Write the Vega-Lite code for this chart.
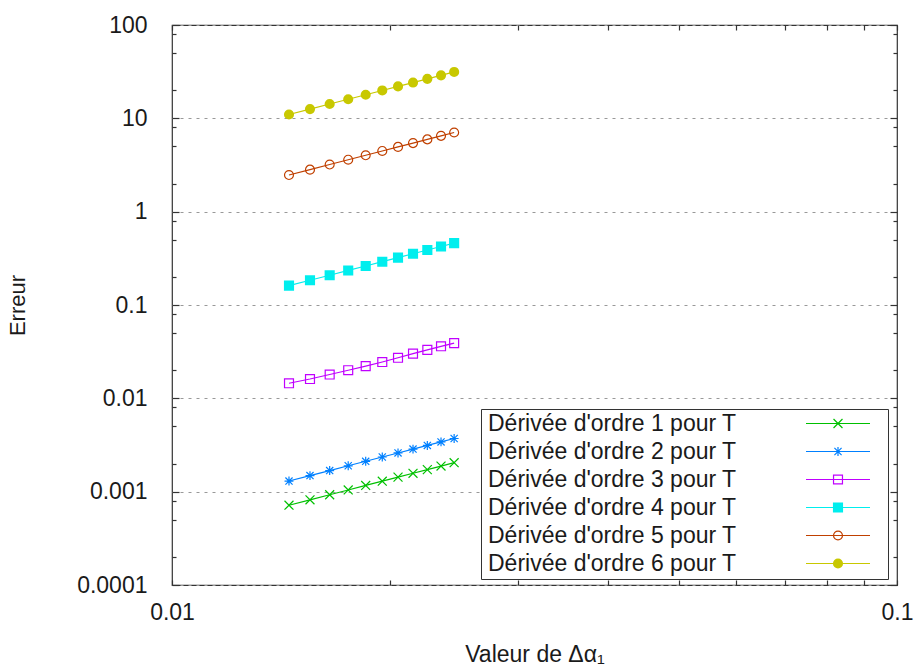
{
  "$schema": "https://vega.github.io/schema/vega-lite/v6.json",
  "width": 725,
  "height": 560,
  "autosize": {"type": "none"},
  "padding": {"left": 172, "top": 25, "right": 18, "bottom": 81},
  "background": "white",
  "config": {
    "view": {"stroke": "#333333", "strokeWidth": 1.2},
    "font": "Liberation Sans"
  },
  "data": {
    "values": [
      {"x": 0.0145, "y": 0.000716, "serie": "Dérivée d'ordre 1 pour T"},
      {"x": 0.0155, "y": 0.000818, "serie": "Dérivée d'ordre 1 pour T"},
      {"x": 0.0165, "y": 0.000927, "serie": "Dérivée d'ordre 1 pour T"},
      {"x": 0.0175, "y": 0.001043, "serie": "Dérivée d'ordre 1 pour T"},
      {"x": 0.0185, "y": 0.001166, "serie": "Dérivée d'ordre 1 pour T"},
      {"x": 0.0195, "y": 0.001295, "serie": "Dérivée d'ordre 1 pour T"},
      {"x": 0.0205, "y": 0.001431, "serie": "Dérivée d'ordre 1 pour T"},
      {"x": 0.0215, "y": 0.001574, "serie": "Dérivée d'ordre 1 pour T"},
      {"x": 0.0225, "y": 0.001724, "serie": "Dérivée d'ordre 1 pour T"},
      {"x": 0.0235, "y": 0.001881, "serie": "Dérivée d'ordre 1 pour T"},
      {"x": 0.0245, "y": 0.002044, "serie": "Dérivée d'ordre 1 pour T"},
      {"x": 0.0145, "y": 0.00130, "serie": "Dérivée d'ordre 2 pour T"},
      {"x": 0.0155, "y": 0.001486, "serie": "Dérivée d'ordre 2 pour T"},
      {"x": 0.0165, "y": 0.001683, "serie": "Dérivée d'ordre 2 pour T"},
      {"x": 0.0175, "y": 0.001894, "serie": "Dérivée d'ordre 2 pour T"},
      {"x": 0.0185, "y": 0.002116, "serie": "Dérivée d'ordre 2 pour T"},
      {"x": 0.0195, "y": 0.002351, "serie": "Dérivée d'ordre 2 pour T"},
      {"x": 0.0205, "y": 0.002598, "serie": "Dérivée d'ordre 2 pour T"},
      {"x": 0.0215, "y": 0.002858, "serie": "Dérivée d'ordre 2 pour T"},
      {"x": 0.0225, "y": 0.00313, "serie": "Dérivée d'ordre 2 pour T"},
      {"x": 0.0235, "y": 0.003415, "serie": "Dérivée d'ordre 2 pour T"},
      {"x": 0.0245, "y": 0.003712, "serie": "Dérivée d'ordre 2 pour T"},
      {"x": 0.0145, "y": 0.0145, "serie": "Dérivée d'ordre 3 pour T"},
      {"x": 0.0155, "y": 0.0161, "serie": "Dérivée d'ordre 3 pour T"},
      {"x": 0.0165, "y": 0.0180, "serie": "Dérivée d'ordre 3 pour T"},
      {"x": 0.0175, "y": 0.0200, "serie": "Dérivée d'ordre 3 pour T"},
      {"x": 0.0185, "y": 0.0221, "serie": "Dérivée d'ordre 3 pour T"},
      {"x": 0.0195, "y": 0.0245, "serie": "Dérivée d'ordre 3 pour T"},
      {"x": 0.0205, "y": 0.0272, "serie": "Dérivée d'ordre 3 pour T"},
      {"x": 0.0215, "y": 0.0301, "serie": "Dérivée d'ordre 3 pour T"},
      {"x": 0.0225, "y": 0.0331, "serie": "Dérivée d'ordre 3 pour T"},
      {"x": 0.0235, "y": 0.0361, "serie": "Dérivée d'ordre 3 pour T"},
      {"x": 0.0245, "y": 0.0391, "serie": "Dérivée d'ordre 3 pour T"},
      {"x": 0.0145, "y": 0.161, "serie": "Dérivée d'ordre 4 pour T"},
      {"x": 0.0155, "y": 0.184, "serie": "Dérivée d'ordre 4 pour T"},
      {"x": 0.0165, "y": 0.2085, "serie": "Dérivée d'ordre 4 pour T"},
      {"x": 0.0175, "y": 0.2345, "serie": "Dérivée d'ordre 4 pour T"},
      {"x": 0.0185, "y": 0.262, "serie": "Dérivée d'ordre 4 pour T"},
      {"x": 0.0195, "y": 0.291, "serie": "Dérivée d'ordre 4 pour T"},
      {"x": 0.0205, "y": 0.322, "serie": "Dérivée d'ordre 4 pour T"},
      {"x": 0.0215, "y": 0.354, "serie": "Dérivée d'ordre 4 pour T"},
      {"x": 0.0225, "y": 0.388, "serie": "Dérivée d'ordre 4 pour T"},
      {"x": 0.0235, "y": 0.423, "serie": "Dérivée d'ordre 4 pour T"},
      {"x": 0.0245, "y": 0.460, "serie": "Dérivée d'ordre 4 pour T"},
      {"x": 0.0145, "y": 2.47, "serie": "Dérivée d'ordre 5 pour T"},
      {"x": 0.0155, "y": 2.82, "serie": "Dérivée d'ordre 5 pour T"},
      {"x": 0.0165, "y": 3.20, "serie": "Dérivée d'ordre 5 pour T"},
      {"x": 0.0175, "y": 3.60, "serie": "Dérivée d'ordre 5 pour T"},
      {"x": 0.0185, "y": 4.02, "serie": "Dérivée d'ordre 5 pour T"},
      {"x": 0.0195, "y": 4.47, "serie": "Dérivée d'ordre 5 pour T"},
      {"x": 0.0205, "y": 4.94, "serie": "Dérivée d'ordre 5 pour T"},
      {"x": 0.0215, "y": 5.43, "serie": "Dérivée d'ordre 5 pour T"},
      {"x": 0.0225, "y": 5.95, "serie": "Dérivée d'ordre 5 pour T"},
      {"x": 0.0235, "y": 6.49, "serie": "Dérivée d'ordre 5 pour T"},
      {"x": 0.0245, "y": 7.05, "serie": "Dérivée d'ordre 5 pour T"},
      {"x": 0.0145, "y": 11.0, "serie": "Dérivée d'ordre 6 pour T"},
      {"x": 0.0155, "y": 12.57, "serie": "Dérivée d'ordre 6 pour T"},
      {"x": 0.0165, "y": 14.24, "serie": "Dérivée d'ordre 6 pour T"},
      {"x": 0.0175, "y": 16.02, "serie": "Dérivée d'ordre 6 pour T"},
      {"x": 0.0185, "y": 17.9, "serie": "Dérivée d'ordre 6 pour T"},
      {"x": 0.0195, "y": 19.89, "serie": "Dérivée d'ordre 6 pour T"},
      {"x": 0.0205, "y": 21.99, "serie": "Dérivée d'ordre 6 pour T"},
      {"x": 0.0215, "y": 24.18, "serie": "Dérivée d'ordre 6 pour T"},
      {"x": 0.0225, "y": 26.49, "serie": "Dérivée d'ordre 6 pour T"},
      {"x": 0.0235, "y": 28.89, "serie": "Dérivée d'ordre 6 pour T"},
      {"x": 0.0245, "y": 31.4, "serie": "Dérivée d'ordre 6 pour T"}
    ]
  },
  "layer": [
    {
      "mark": {"type": "line", "strokeWidth": 1.2},
      "encoding": {
        "x": {
          "field": "x", "type": "quantitative",
          "scale": {"type": "log", "domain": [0.01, 0.1]},
          "axis": {
            "orient": "bottom",
            "values": [0.01, 0.02, 0.03, 0.04, 0.05, 0.06, 0.07, 0.08, 0.09, 0.1],
            "format": "~g",
            "labelExpr": "(datum.value == 0.01 || datum.value == 0.1) ? datum.label : ''",
            "labelFont": "Liberation Sans", "labelFontSize": 23, "labelColor": "#1a1a1a",
            "labelPadding": 21, "labelFlush": false, "labelOverlap": false,
            "tickSize": -5, "tickColor": "#333333", "tickWidth": 1.2,
            "domain": false, "grid": false,
            "title": "Valeur de  Δα₁",
            "titleFont": "Liberation Sans", "titleFontSize": 23, "titleFontWeight": "normal", "titleColor": "#1a1a1a",
            "titlePadding": 19
          }
        },
        "y": {
          "field": "y", "type": "quantitative",
          "scale": {"type": "log", "domain": [0.0001, 100]},
          "axis": {
            "orient": "left",
            "values": [0.0001, 0.0002, 0.0005, 0.0008, 0.001, 0.002, 0.005, 0.008, 0.01, 0.02, 0.05, 0.08, 0.1, 0.2, 0.5, 0.8, 1, 2, 5, 8, 10, 20, 50, 80, 100],
            "format": "~g",
            "labelExpr": "abs(log(datum.value)/LN10 - round(log(datum.value)/LN10)) < 0.001 ? datum.label : ''",
            "labelFont": "Liberation Sans", "labelFontSize": 23, "labelColor": "#1a1a1a",
            "labelPadding": 32, "labelFlush": false, "labelOverlap": false,
            "tickSize": {"condition": {"test": "abs(log(datum.value)/LN10 - round(log(datum.value)/LN10)) < 0.001", "value": -7}, "value": -4},
            "tickColor": "#333333", "tickWidth": 1.2,
            "domain": false,
            "grid": true,
            "gridDash": [3, 5],
            "gridColor": "#999999",
            "gridWidth": 1,
            "gridOpacity": {"condition": {"test": "abs(log(datum.value)/LN10 - round(log(datum.value)/LN10)) < 0.001", "value": 1}, "value": 0},
            "title": "Erreur",
            "titleFont": "Liberation Sans", "titleFontSize": 22, "titleFontWeight": "normal", "titleColor": "#1a1a1a",
            "titlePadding": 47
          }
        },
        "stroke": {
          "field": "serie", "type": "nominal",
          "scale": {
            "domain": ["Dérivée d'ordre 1 pour T", "Dérivée d'ordre 2 pour T", "Dérivée d'ordre 3 pour T", "Dérivée d'ordre 4 pour T", "Dérivée d'ordre 5 pour T", "Dérivée d'ordre 6 pour T"],
            "range": ["#00c000", "#0080ff", "#c000ff", "#00eeee", "#c04000", "#c8c800"]
          },
          "legend": {
            "orient": "none", "legendX": 309, "legendY": 384,
            "title": null,
            "symbolType": "M-6.4,0L6.4,0M8.8,0",
            "symbolSize": 100,
            "symbolStrokeWidth": 1.2,
            "labelFont": "Liberation Sans", "labelFontSize": 23, "labelColor": "#1a1a1a",
            "labelLimit": 400,
            "labelOffset": -361.5,
            "symbolOffset": 342.5,
            "rowPadding": 4,
            "padding": 3,
            "strokeColor": "#333333",
            "fillColor": "white"
          }
        }
      }
    },
    {
      "mark": {"type": "point", "filled": false, "size": 80, "strokeWidth": 1.2, "opacity": 1},
      "encoding": {
        "x": {
          "field": "x", "type": "quantitative",
          "scale": {"type": "log", "domain": [0.01, 0.1]},
          "axis": {
            "orient": "top",
            "values": [0.01, 0.02, 0.03, 0.04, 0.05, 0.06, 0.07, 0.08, 0.09, 0.1],
            "labels": false, "title": null, "domain": false, "grid": false,
            "tickSize": -5, "tickColor": "#333333", "tickWidth": 1.2
          }
        },
        "y": {
          "field": "y", "type": "quantitative",
          "scale": {"type": "log", "domain": [0.0001, 100]},
          "axis": {
            "orient": "right",
            "values": [0.0001, 0.0002, 0.0005, 0.0008, 0.001, 0.002, 0.005, 0.008, 0.01, 0.02, 0.05, 0.08, 0.1, 0.2, 0.5, 0.8, 1, 2, 5, 8, 10, 20, 50, 80, 100],
            "labels": false, "title": null, "domain": false, "grid": false,
            "tickSize": {"condition": {"test": "abs(log(datum.value)/LN10 - round(log(datum.value)/LN10)) < 0.001", "value": -7}, "value": -4},
            "tickColor": "#333333", "tickWidth": 1.2
          }
        },
        "color": {
          "field": "serie", "type": "nominal",
          "scale": {"range": ["#00c000", "#0080ff", "#c000ff", "#00eeee", "#c04000", "#c8c800"]},
          "legend": {
            "orient": "none", "legendX": 309, "legendY": 384,
            "title": null,
            "symbolSize": 80,
            "symbolStrokeWidth": 1.2,
            "labelFont": "Liberation Sans", "labelFontSize": 23, "labelOpacity": 0,
            "labelLimit": 400,
            "labelOffset": -361.5,
            "symbolOffset": 342.5,
            "rowPadding": 4,
            "padding": 3
          }
        },
        "shape": {
          "field": "serie", "type": "nominal",
          "scale": {
            "range": [
              "M-1,-1L1,1M-1,1L1,-1",
              "M-1,0L1,0M0,-1L0,1M-0.8,-0.8L0.8,0.8M-0.8,0.8L0.8,-0.8",
              "square",
              "M-1,-1L1,-1L1,1L-1,1ZM-1,-0.75L1,-0.75M-1,-0.5L1,-0.5M-1,-0.25L1,-0.25M-1,0L1,0M-1,0.25L1,0.25M-1,0.5L1,0.5M-1,0.75L1,0.75",
              "circle",
              "M1,0A1,1,0,1,1,-1,0A1,1,0,1,1,1,0ZM-0.661,-0.75L0.661,-0.75M-0.866,-0.5L0.866,-0.5M-0.968,-0.25L0.968,-0.25M-1,0L1,0M-0.968,0.25L0.968,0.25M-0.866,0.5L0.866,0.5M-0.661,0.75L0.661,0.75"
            ]
          },
          "legend": {
            "orient": "none", "legendX": 309, "legendY": 384,
            "title": null,
            "symbolSize": 80,
            "symbolStrokeWidth": 1.2,
            "labelFont": "Liberation Sans", "labelFontSize": 23, "labelOpacity": 0,
            "labelLimit": 400,
            "labelOffset": -361.5,
            "symbolOffset": 342.5,
            "rowPadding": 4,
            "padding": 3
          }
        }
      }
    }
  ],
  "resolve": {"axis": {"x": "independent", "y": "independent"}}
}
